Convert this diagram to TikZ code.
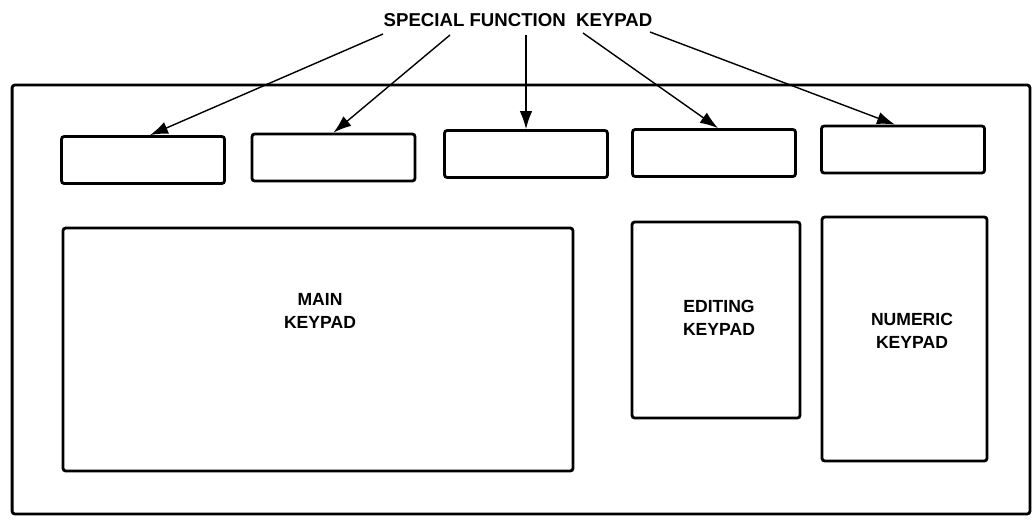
\documentclass[tikz,border=0pt]{standalone}
\usepackage{fontspec}
\setmainfont{Liberation Sans}
\usetikzlibrary{arrows.meta, positioning}
\tikzstyle{arrow} = [line width=0.8pt, -{Latex[length=3.6mm, width=2.5mm]}]
\tikzstyle{keybox} = [draw, line width=1.6pt, rounded corners=1.5pt, inner sep=0pt]
\tikzstyle{fnkey} = [keybox, minimum width=3.26cm, minimum height=0.94cm]
\tikzstyle{lbl} = [align=center, font=\fontsize{10}{12.7}\selectfont\bfseries]

\begin{document}
\begin{tikzpicture}[x=0.02cm, y=-0.02cm]
    \useasboundingbox (0,0) rectangle (1034,521);
    % keyboard outline
    \node[keybox, minimum width=20.36cm, minimum height=8.58cm] (frame) at (521,299.5) {};
    % special function keys
    \node[fnkey] (fk1) at (143,160) {};
    \node[fnkey] (fk2) at (333.5,157.5) {};
    \node[fnkey] (fk3) at (526,154) {};
    \node[fnkey] (fk4) at (714,153) {};
    \node[fnkey] (fk5) at (903,149.5) {};
    % keypads
    \node[keybox, minimum width=10.2cm, minimum height=4.86cm] (main) at (318,349.5) {};
    \node[keybox, minimum width=3.36cm, minimum height=3.92cm] (edit) at (716,320) {};
    \node[keybox, minimum width=3.3cm, minimum height=4.88cm] (numeric) at (904.5,339) {};
    \node[lbl] (mainlbl) at (320,311) {MAIN\\KEYPAD};
    \node[lbl] (editlbl) at (719,318) {EDITING\\KEYPAD};
    \node[lbl] (numlbl) at (912,331) {NUMERIC\\KEYPAD};
    % title and pointers
    \node[lbl, font=\fontsize{10.6}{12.7}\selectfont\bfseries] (title) at (518,20) {SPECIAL FUNCTION\ \ KEYPAD};
    \coordinate (s1) at (383,34);
    \coordinate (s2) at (450,35);
    \coordinate (s3) at (526,35);
    \coordinate (s4) at (583,33);
    \coordinate (s5) at (650,32);
    \draw[arrow] (s1) -- ([xshift=0.14cm]fk1.north);
    \draw[arrow] (s2) -- (fk2.north);
    \draw[arrow] (s3) -- (fk3.north);
    \draw[arrow] (s4) -- ([xshift=0.08cm]fk4.north);
    \draw[arrow] (s5) -- ([xshift=-0.16cm]fk5.north);
\end{tikzpicture}
\end{document}
